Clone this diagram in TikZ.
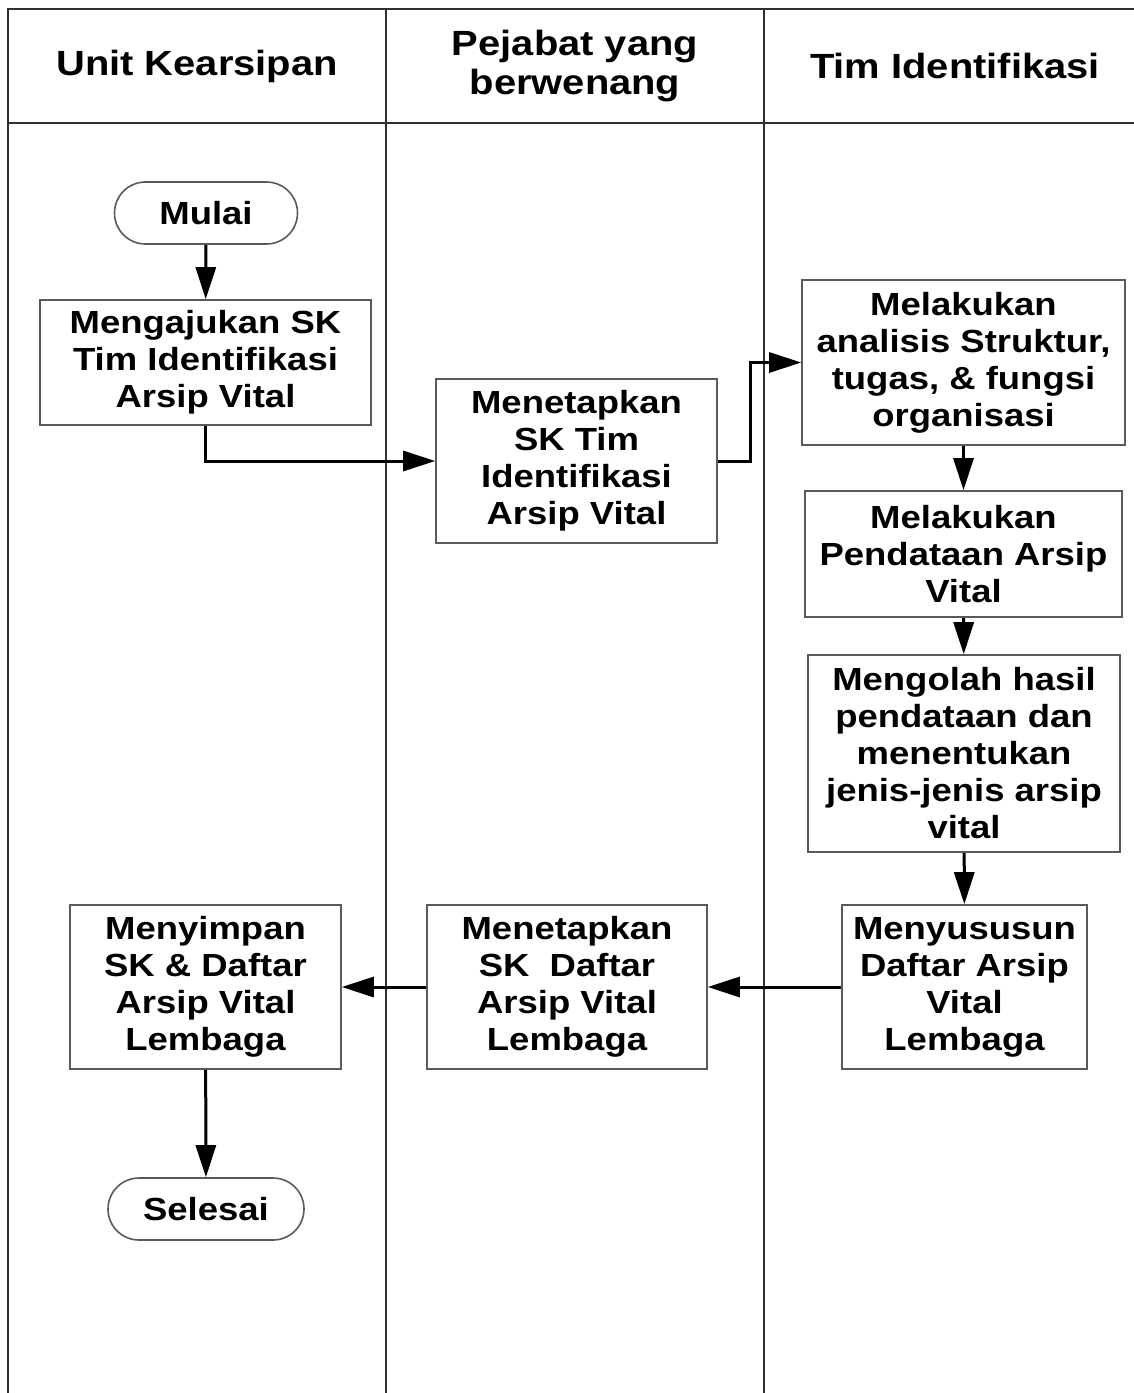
\documentclass[tikz,border=0pt]{standalone}
\usepackage{fontspec}
\setmainfont{Liberation Sans}[FakeStretch=1.14]
\usetikzlibrary{arrows.meta}
\definecolor{boxgray}{HTML}{5A5A5A}
\definecolor{framegray}{HTML}{303030}
\begin{document}
\begin{tikzpicture}[x=1pt,y=-1pt,
  txt/.style={font=\bfseries\fontsize{32}{37}\selectfont, align=center},
  head/.style={font=\bfseries\fontsize{35}{39}\selectfont, align=center},
  box/.style={txt, draw=boxgray, line width=1.6pt, inner sep=0pt},
  term/.style={box, rounded corners=31pt},
  lane/.style={draw=framegray, line width=2.2pt},
  flow/.style={draw=black, line width=3pt, -{Triangle[length=32pt,width=20pt]}}]
\useasboundingbox (0,0) rectangle (1134,1393);

% swimlane frame
\draw[lane] (1134,9) -- (8,9) -- (8,1393);
\draw[lane] (8,123) -- (1134,123);
\draw[lane] (386,9) -- (386,1393);
\draw[lane] (764,9) -- (764,1393);

% lane headers
\node[head] (h1) at (197,66) {Unit Kearsipan};
\node[head] (h2) at (575,66) {Pejabat yang\\berwenang};
\node[head] (h3) at (955,66) {Tim Identifikasi};

% process steps
\node[term, minimum width=183pt, minimum height=62pt] (mulai) at (206,213) {Mulai};
\node[box, minimum width=331pt, minimum height=125pt] (aju) at (205.5,362.5) {Mengajukan SK\\Tim Identifikasi\\Arsip Vital};
\node[box, minimum width=281pt, minimum height=164pt] (tetap) at (576.5,461) {Menetapkan\\SK Tim\\Identifikasi\\Arsip Vital};
\node[box, minimum width=323pt, minimum height=165pt] (analisis) at (963.5,362.5) {Melakukan\\analisis Struktur,\\tugas, \& fungsi\\organisasi};
\node[box, minimum width=317pt, minimum height=126pt] (data) at (963.5,554) {Melakukan\\Pendataan Arsip\\Vital};
\node[box, minimum width=312pt, minimum height=197pt] (olah) at (964,753.5) {Mengolah hasil\\pendataan dan\\menentukan\\jenis-jenis arsip\\vital};
\node[box, minimum width=245pt, minimum height=164pt] (susun) at (964.5,987) {Menyususun\\Daftar Arsip\\Vital\\Lembaga};
\node[box, minimum width=280pt, minimum height=164pt] (daftar) at (567,987) {Menetapkan\\SK\ \ Daftar\\Arsip Vital\\Lembaga};
\node[box, minimum width=271pt, minimum height=164pt] (simpan) at (205.5,987) {Menyimpan\\SK \& Daftar\\Arsip Vital\\Lembaga};
\node[term, minimum width=196pt, minimum height=62pt] (selesai) at (206,1209) {Selesai};

% connectors
\coordinate (bend) at (750,461);
\draw[flow] (mulai) -- (aju);
\draw[flow] (aju.south) |- (tetap.west);
\draw[flow] (tetap.east) -- (bend) |- (analisis.west);
\draw[flow] (analisis) -- (data);
\draw[flow] (data) -- (olah);
\draw[flow] (olah) -- (susun);
\draw[flow] (susun) -- (daftar);
\draw[flow] (daftar) -- (simpan);
\draw[flow] (simpan) -- (selesai);
\end{tikzpicture}
\end{document}
